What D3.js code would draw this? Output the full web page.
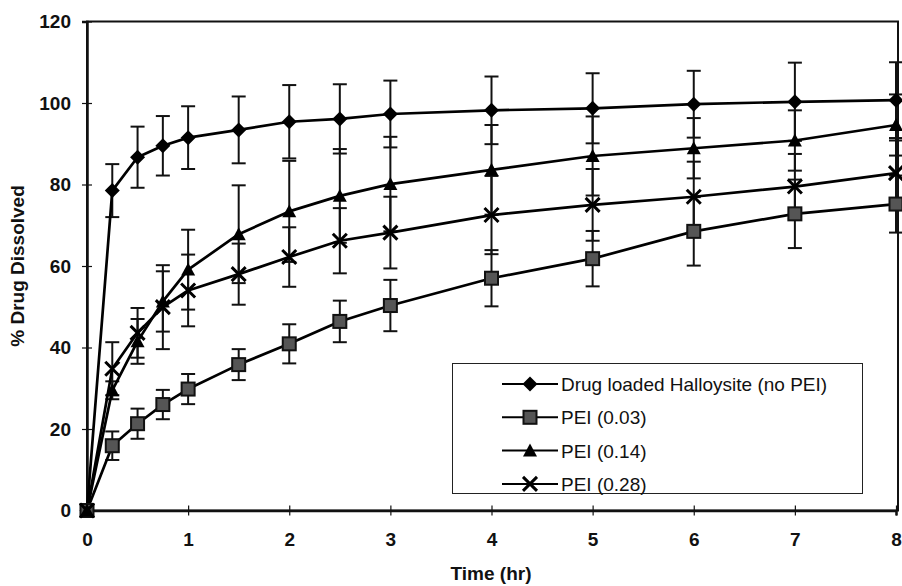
<!DOCTYPE html>
<html>
<head>
<meta charset="utf-8">
<script src="https://cdn.jsdelivr.net/npm/d3@7/dist/d3.min.js"></script>
<style>
  html, body { margin: 0; padding: 0; background: #fff; }
  svg { display: block; font-family: Arial, "Liberation Sans", sans-serif; }
</style>
</head>
<body>
<svg id="chart" width="902" height="586"></svg>
<script>
// Sampling times (hours)
const times = [0, 0.25, 0.5, 0.75, 1, 1.5, 2, 2.5, 3, 4, 5, 6, 7, 8];

// Mean % drug dissolved and standard deviation for each formulation
const noPEI    = [0, 78.5, 86.7, 89.5, 91.5, 93.4, 95.4, 96.1, 97.3, 98.2, 98.7, 99.7, 100.3, 100.7];
const noPEIErr = [0, 6.5, 7.5, 7.3, 7.7, 8.2, 9.0, 8.5, 8.2, 8.3, 8.6, 8.2, 9.6, 9.3];

const pei003    = [0, 15.9, 21.3, 26.0, 29.8, 35.8, 40.9, 46.4, 50.3, 57.0, 61.8, 68.5, 72.8, 75.2];
const pei003Err = [0, 3.5, 3.7, 3.6, 3.7, 3.8, 4.8, 5.1, 6.3, 6.9, 6.8, 8.4, 8.4, 7.0];

const pei014    = [0, 29.5, 41.5, 51.3, 59.1, 67.8, 73.4, 77.2, 80.1, 83.6, 87.0, 88.9, 90.8, 94.6];
const pei014Err = [0, 2.2, 5.5, 7.4, 9.8, 12.0, 12.4, 11.5, 11.6, 11.0, 9.7, 7.4, 7.4, 7.5];

const pei028    = [0, 34.8, 43.6, 49.9, 54.0, 58.0, 62.2, 66.2, 68.2, 72.5, 75.0, 77.0, 79.5, 82.8];
const pei028Err = [0, 6.5, 6.1, 10.3, 8.8, 7.5, 7.3, 8.0, 8.8, 9.6, 8.8, 8.6, 8.0, 8.0];

const seriesNames = ["Drug loaded Halloysite (no PEI)", "PEI (0.03)", "PEI (0.14)", "PEI (0.28)"];
const seriesMarkers = ["diamond", "square", "triangle", "cross"];

const xTicks = [0, 1, 2, 3, 4, 5, 6, 7, 8];
const yTicks = [0, 20, 40, 60, 80, 100, 120];

const series = [
  { name: seriesNames[0], marker: seriesMarkers[0], values: noPEI,  errs: noPEIErr },
  { name: seriesNames[1], marker: seriesMarkers[1], values: pei003, errs: pei003Err },
  { name: seriesNames[2], marker: seriesMarkers[2], values: pei014, errs: pei014Err },
  { name: seriesNames[3], marker: seriesMarkers[3], values: pei028, errs: pei028Err }
];

const svg = d3.select("#chart");
const plot = { left: 87, right: 896, top: 21.5, bottom: 510.5 };
const FONT = "Arial, 'Liberation Sans', sans-serif";

const x = d3.scaleLinear().domain([0, 8]).range([plot.left, plot.right]);
const y = d3.scaleLinear().domain([0, 120]).range([plot.bottom, plot.top]);

// Plot frame
svg.append("rect")
  .attr("x", plot.left).attr("y", plot.top)
  .attr("width", plot.right + 2 - plot.left).attr("height", plot.bottom - plot.top)
  .attr("fill", "none").attr("stroke", "#111").attr("stroke-width", 2);

// Axes with ticks crossing the axis line
const yAxis = d3.axisLeft(y).tickValues(yTicks).tickSize(5).tickPadding(11);
const gy = svg.append("g").attr("transform", `translate(${plot.left},0)`).call(yAxis);
gy.select(".domain").attr("stroke", "#111").attr("stroke-width", 2.5);
gy.selectAll(".tick line").attr("x2", -5).attr("x1", 5).attr("stroke", "#111").attr("stroke-width", 1.2);
gy.selectAll(".tick text").attr("font-size", 19).attr("font-weight", "bold").attr("fill", "#111")
  .attr("font-family", FONT);

const xAxis = d3.axisBottom(x).tickValues(xTicks).tickSize(5).tickPadding(17);
const gx = svg.append("g").attr("transform", `translate(0,${plot.bottom})`).call(xAxis);
gx.select(".domain").attr("stroke", "#111").attr("stroke-width", 2.5);
gx.selectAll(".tick line").attr("y1", -5).attr("y2", 5).attr("stroke", "#111").attr("stroke-width", 1.2);
gx.selectAll(".tick text").attr("font-size", 19).attr("font-weight", "bold").attr("fill", "#111")
  .attr("font-family", FONT);

// Axis titles
svg.append("text")
  .attr("x", 491).attr("y", 580)
  .attr("text-anchor", "middle").attr("font-size", 19).attr("font-weight", "bold").attr("fill", "#111")
  .text("Time (hr)");

svg.append("text")
  .attr("transform", `translate(24,${266}) rotate(-90)`)
  .attr("text-anchor", "middle").attr("font-size", 19).attr("font-weight", "bold").attr("fill", "#111")
  .text("% Drug Dissolved");

// Marker shapes
function drawMarker(g, type, cx, cy) {
  if (type === "diamond") {
    const r = 7.5;
    g.append("path").attr("d", `M${cx},${cy - r}L${cx + r},${cy}L${cx},${cy + r}L${cx - r},${cy}Z`)
      .attr("fill", "#000");
  } else if (type === "square") {
    const h = 6.5;
    g.append("rect").attr("x", cx - h).attr("y", cy - h).attr("width", 2 * h).attr("height", 2 * h)
      .attr("fill", "#555").attr("stroke", "#111").attr("stroke-width", 2);
  } else if (type === "triangle") {
    const h = 7;
    g.append("path").attr("d", `M${cx},${cy - h}L${cx + h},${cy + h * 0.85}L${cx - h},${cy + h * 0.85}Z`)
      .attr("fill", "#000");
  } else if (type === "cross") {
    const h = 7;
    g.append("path").attr("d", `M${cx - h},${cy - h}L${cx + h},${cy + h}M${cx - h},${cy + h}L${cx + h},${cy - h}`)
      .attr("stroke", "#000").attr("stroke-width", 3).attr("fill", "none");
  }
}

// Error bars
const errG = svg.append("g");
series.forEach(s => {
  times.forEach((t, i) => {
    const e = s.errs[i];
    if (!e) return;
    const cx = x(t);
    const y1 = y(s.values[i] + e), y2 = y(s.values[i] - e);
    errG.append("line").attr("x1", cx).attr("x2", cx).attr("y1", y1).attr("y2", y2)
      .attr("stroke", "#111").attr("stroke-width", 2);
    [y1, y2].forEach(yy => errG.append("line")
      .attr("x1", cx - 7).attr("x2", cx + 7).attr("y1", yy).attr("y2", yy)
      .attr("stroke", "#111").attr("stroke-width", 2));
  });
});

// Series lines
const line = d3.line().x(d => x(d[0])).y(d => y(d[1]));
series.forEach(s => {
  svg.append("path")
    .datum(times.map((t, i) => [t, s.values[i]]))
    .attr("d", line).attr("fill", "none").attr("stroke", "#000").attr("stroke-width", 2.7)
    .attr("stroke-linejoin", "round");
});

// Markers
const markG = svg.append("g");
series.forEach(s => {
  times.forEach((t, i) => drawMarker(markG, s.marker, x(t), y(s.values[i])));
});

// Legend
const legend = svg.append("g");
legend.append("rect").attr("x", 452.5).attr("y", 363.5).attr("width", 410).attr("height", 130)
  .attr("fill", "#fff").attr("stroke", "#222").attr("stroke-width", 1);
series.forEach((s, i) => {
  const ly = 384 + i * 33.3;
  legend.append("line").attr("x1", 502).attr("x2", 558).attr("y1", ly).attr("y2", ly)
    .attr("stroke", "#000").attr("stroke-width", 2);
  drawMarker(legend, s.marker, 530, ly);
  legend.append("text").attr("x", 561).attr("y", ly + 7)
    .attr("font-size", 19).attr("fill", "#111").attr("font-family", FONT).text(s.name);
});
</script>
</body>
</html>
